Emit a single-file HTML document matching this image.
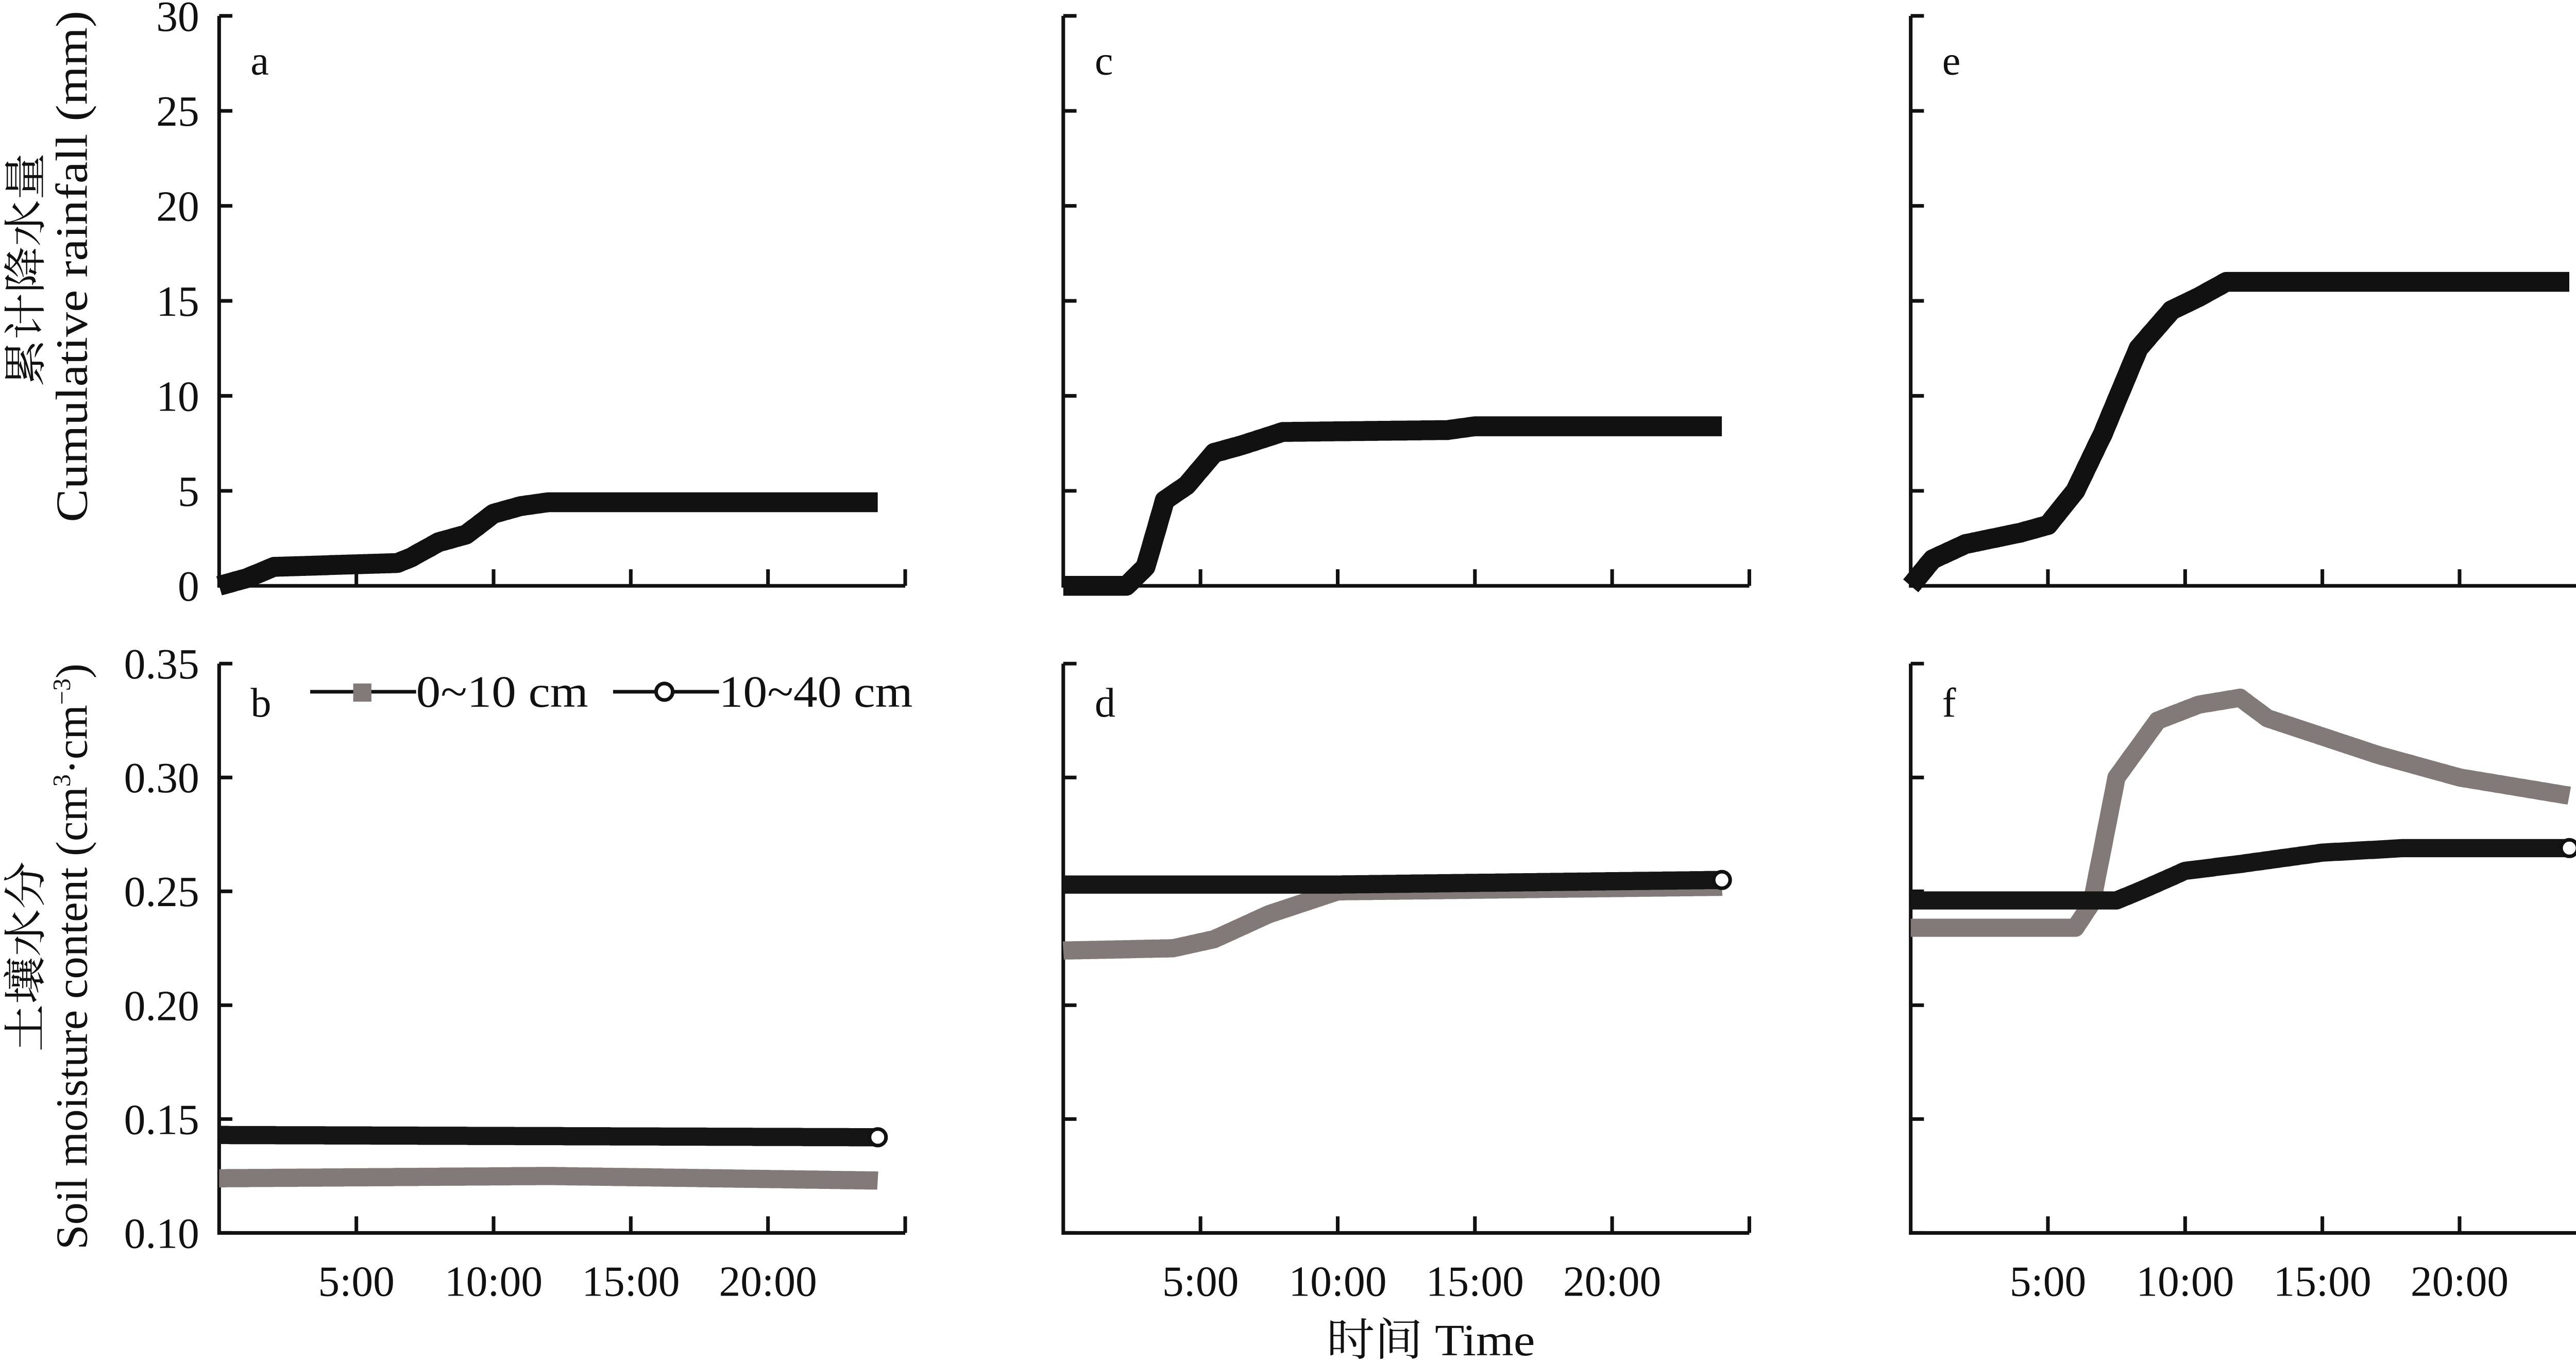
<!DOCTYPE html>
<html><head><meta charset="utf-8"><style>
html,body{margin:0;padding:0;background:#fff}
svg{display:block}
text{font-family:"Liberation Serif","Noto Serif CJK SC",serif;fill:#111}
</style></head><body>
<svg id="s" width="5040" height="2644" viewBox="0 0 1568 823" xmlns="http://www.w3.org/2000/svg">
<g>
<text x="864" y="819" text-anchor="middle" font-size="27" textLength="126" lengthAdjust="spacingAndGlyphs">时间 Time</text>
<text transform="translate(24,163) rotate(-90)" text-anchor="middle" font-size="26" textLength="141" lengthAdjust="spacingAndGlyphs">累计降水量</text>
<text transform="translate(52,161) rotate(-90)" text-anchor="middle" font-size="27" textLength="309" lengthAdjust="spacingAndGlyphs">Cumulative rainfall (mm)</text>
<text transform="translate(24,578) rotate(-90)" text-anchor="middle" font-size="26" textLength="115" lengthAdjust="spacingAndGlyphs">土壤水分</text>
<text transform="translate(52,578) rotate(-90)" text-anchor="middle" font-size="27">Soil moisture content (cm<tspan dy="-10" font-size="15">3</tspan><tspan dy="10">·cm</tspan><tspan dy="-10" font-size="15">−3</tspan><tspan dy="10">)</tspan></text>
</g>
<g id="g"></g>
</svg>
<script>
const g=document.getElementById('g');let h='';
const X0=[132,642,1154],PH=16.58;
const ty=v=>354-v*11.48, by=v=>745-(v-0.10)*1376;
function interp(pts){let o=[];for(let t=0;t<=24.001;t+=0.1){let i=0;while(i<pts.length-2&&pts[i+1][0]<t)i++;let [t0,v0]=pts[i],[t1,v1]=pts[i+1];let f=t1>t0?Math.min(1,Math.max(0,(t-t0)/(t1-t0))):1;o.push([t,v0+(v1-v0)*f]);}return o;}
function line(x0,pts,fy,col,w){return `<polyline fill="none" stroke="${col}" stroke-width="${w}" stroke-linejoin="round" points="${interp(pts).map(p=>(x0+p[0]*PH).toFixed(1)+','+fy(p[1]).toFixed(1)).join(' ')}"/>`;}
const labs=['a','c','e'],labs2=['b','d','f'];
for(let k=0;k<3;k++){const x0=X0[k],x1=x0+25*PH;
 h+=`<path d="M${x0},${ty(30)}V${ty(0)}H${x1}" fill="none" stroke="#111" stroke-width="2.2"/>`;
 for(let v=0;v<=30;v+=5){h+=`<path d="M${x0},${ty(v)}h8" stroke="#111" stroke-width="2.2"/>`;if(k==0)h+=`<text x="${x0-12}" y="${ty(v)+9}" text-anchor="end" font-size="26">${v}</text>`;}
 for(let t=5;t<=25;t+=5)h+=`<path d="M${x0+t*PH},${ty(0)}v-10" stroke="#111" stroke-width="2.2"/>`;
 h+=`<text x="${x0+19}" y="45" font-size="25">${labs[k]}</text>`;
 h+=`<path d="M${x0},${by(0.35)}V${by(0.10)}H${x1}" fill="none" stroke="#111" stroke-width="2.2"/>`;
 for(let i=0;i<6;i++){let v=0.10+i*0.05;h+=`<path d="M${x0},${by(v)}h8" stroke="#111" stroke-width="2.2"/>`;if(k==0)h+=`<text x="${x0-12}" y="${by(v)+9}" text-anchor="end" font-size="26">${v.toFixed(2)}</text>`;}
 for(let t=5;t<=25;t+=5)h+=`<path d="M${x0+t*PH},745v-10" stroke="#111" stroke-width="2.2"/>`;
 for(let t=5;t<=20;t+=5)h+=`<text x="${x0+t*PH}" y="783" text-anchor="middle" font-size="26">${t}:00</text>`;
 h+=`<text x="${x0+19}" y="433" font-size="25">${labs2[k]}</text>`;
}
const rain=[
[[0,0],[1,0.4],[2,1],[6.5,1.2],[7,1.5],[8,2.3],[9,2.7],[10,3.8],[11,4.2],[12,4.4],[24,4.4]],
[[0,0],[2.3,0],[3,1],[3.7,4.5],[4.5,5.3],[5.5,7],[6.5,7.4],[8,8.1],[14,8.2],[15,8.4],[24,8.4]],
[[0,0],[0.8,1.4],[2,2.2],[4,2.8],[5,3.2],[6,5],[7,8],[8.3,12.5],[9.5,14.5],[10.5,15.2],[11.5,16],[24,16]]];
const gray=[
[[0,0.124],[12,0.125],[24,0.123]],
[[0,0.224],[4,0.225],[5.5,0.229],[7.5,0.24],[10,0.25],[24,0.252]],
[[0,0.234],[6,0.234],[6.6,0.245],[7.5,0.30],[9,0.325],[10.5,0.332],[12,0.335],[13,0.326],[17,0.31],[20,0.30],[24,0.292]]];
const blk=[
[[0,0.143],[24,0.142]],
[[0,0.253],[10,0.253],[24,0.255]],
[[0,0.246],[7.5,0.246],[8.5,0.251],[10,0.259],[12,0.262],[15,0.267],[18,0.269],[24,0.269]]];
for(let k=0;k<3;k++){const x0=X0[k];
 h+=line(x0,rain[k],ty,'#111',12);
 h+=line(x0,gray[k],by,'#827a78',11);
 h+=line(x0,blk[k],by,'#151515',11);
 const e=blk[k][blk[k].length-1];
 h+=`<circle cx="${x0+24*PH}" cy="${by(e[1])}" r="5" fill="#fff" stroke="#111" stroke-width="2.2"/>`;
}
h+=`<path d="M187,418H251" stroke="#111" stroke-width="2.2"/><rect x="213" y="413" width="11" height="11" fill="#827a78"/>`;
h+=`<text x="251" y="427" font-size="27" textLength="104" lengthAdjust="spacingAndGlyphs">0~10 cm</text>`;
h+=`<path d="M370,418H434" stroke="#111" stroke-width="2.2"/><circle cx="401" cy="418" r="5" fill="#fff" stroke="#111" stroke-width="2.2"/>`;
h+=`<text x="434" y="427" font-size="27" textLength="117" lengthAdjust="spacingAndGlyphs">10~40 cm</text>`;
g.innerHTML=h;
</script>
</body></html>
